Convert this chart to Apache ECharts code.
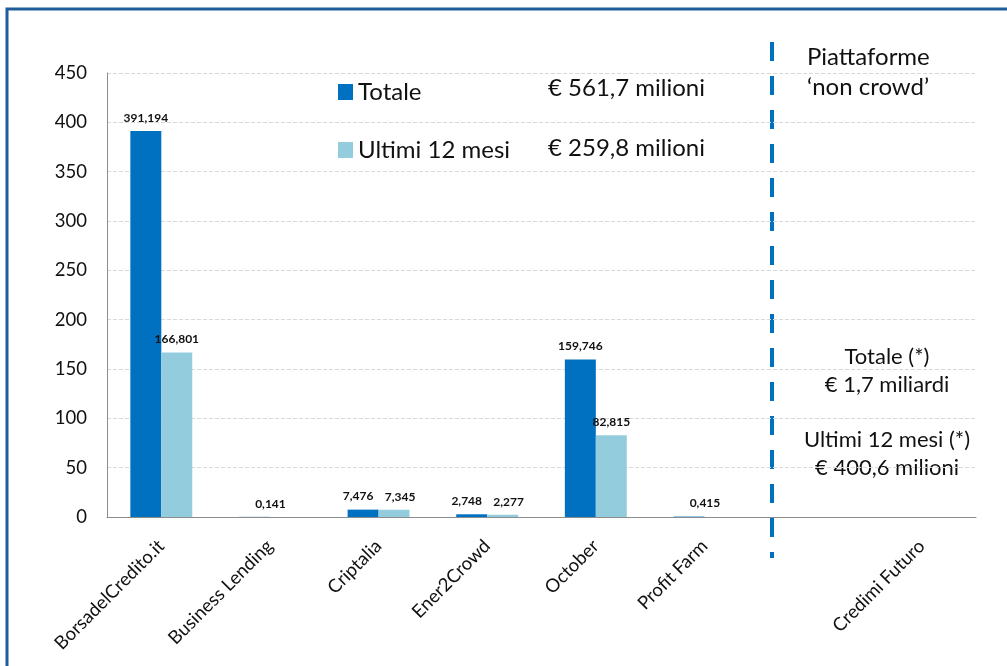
<!DOCTYPE html>
<html>
<head>
<meta charset="utf-8">
<script src="https://cdn.jsdelivr.net/npm/echarts@6/dist/echarts.min.js"></script>
<style>
  html, body { margin: 0; padding: 0; background: #fff; }
  #chart { width: 1007px; height: 666px; }
</style>
</head>
<body>
<div id="chart"></div>
<script>
// data
const categories = ['BorsadelCredito.it', 'Business Lending', 'Criptalia', 'Ener2Crowd', 'October', 'Profit Farm', '', 'Credimi Futuro'];
const totale = [391.194, 0.141, 7.476, 2.748, 159.746, 0.415, null, null];
const ultimi12 = [166.801, null, 7.345, 2.277, 82.815, null, null, null];
const seriesNames = ['Totale', 'Ultimi 12 mesi'];
const totalsText = ['€ 561,7 milioni', '€ 259,8 milioni'];
const nonCrowdTitle = ['Piattaforme', '‘non crowd’'];
const nonCrowdText = ['Totale (*)', '€ 1,7 miliardi', '', 'Ultimi 12 mesi (*)', '€ 400,6 milioni'];

const FONT = 'Lato, "Open Sans", sans-serif';
const all = [totale, ultimi12];

// italian number format for labels
const fmt = (v) => v.toFixed(3).replace('.', ',');

// lone bar -> label at category centre; two short bars -> labels pushed apart
const labelShift = (p) => {
    const mine = all[p.seriesIndex][p.dataIndex];
    const other = all[1 - p.seriesIndex][p.dataIndex];
    let dx = 0;
    if (other == null) dx = p.seriesIndex === 0 ? 16 : -16;
    else if (mine < 20 && other < 20) dx = p.seriesIndex === 0 ? -5 : 6;
    return { dx: dx };
};

const labelStyle = {
    show: true,
    position: 'top',
    distance: 7,
    fontFamily: FONT,
    fontWeight: 'bold',
    fontSize: 12,
    color: '#111',
    formatter: (p) => fmt(p.value)
};

let option = {
    animation: false,
    grid: { left: 107, right: 31, top: 73, bottom: 149 },
    legend: {
        data: seriesNames,
        orient: 'vertical',
        left: 333,
        top: 75,
        icon: 'rect',
        itemWidth: 15,
        itemHeight: 16,
        itemGap: 34,
        textStyle: { fontFamily: FONT, fontSize: 24, color: '#111' }
    },
    xAxis: {
        type: 'category',
        data: categories,
        axisLine: { lineStyle: { color: '#8c8c8c', width: 1 } },
        axisTick: { show: false },
        axisLabel: {
            interval: 0,
            rotate: 45,
            margin: 26,
            fontFamily: FONT,
            fontSize: 18.5,
            color: '#111'
        }
    },
    yAxis: {
        type: 'value',
        min: 0,
        max: 450,
        interval: 50,
        axisLine: { show: true, lineStyle: { color: '#8c8c8c' } },
        axisTick: { show: false },
        axisLabel: { fontFamily: FONT, fontSize: 18.5, color: '#111', margin: 20 },
        splitLine: { lineStyle: { type: 'dashed', color: '#d9d9d9' } }
    },
    series: [
        {
            name: seriesNames[0],
            type: 'bar',
            data: totale,
            itemStyle: { color: '#0070C0' },
            barGap: '0%',
            barCategoryGap: '43%',
            label: labelStyle,
            labelLayout: labelShift
        },
        {
            name: seriesNames[1],
            type: 'bar',
            data: ultimi12,
            itemStyle: { color: '#93CDDD' },
            label: labelStyle,
            labelLayout: labelShift
        }
    ],
    graphic: [
        // frame
        { type: 'rect', shape: { x: 7, y: 9, width: 1010, height: 670 },
          style: { fill: null, stroke: '#1F5C99', lineWidth: 3 }, silent: true },
        // separator
        { type: 'line', shape: { x1: 772, y1: 42, x2: 772, y2: 558 },
          style: { stroke: '#0070C0', lineWidth: 4, lineDash: [19, 15] }, silent: true },
        { type: 'text', x: 548, y: 88,
          style: { text: totalsText[0], font: '24px ' + FONT, fill: '#111', verticalAlign: 'middle' } },
        { type: 'text', x: 548, y: 148,
          style: { text: totalsText[1], font: '24px ' + FONT, fill: '#111', verticalAlign: 'middle' } },
        { type: 'text', x: 807, y: 42,
          style: { text: nonCrowdTitle.join('\n'), font: '24px ' + FONT, fill: '#111',
                   lineHeight: 30, verticalAlign: 'top' } },
        { type: 'text', x: 887, y: 343,
          style: { text: nonCrowdText.join('\n'), font: '22px ' + FONT, fill: '#111',
                   lineHeight: 27.8, align: 'center', verticalAlign: 'top' } }
    ]
};

var myChart = echarts.init(document.getElementById('chart'));
myChart.setOption(option);
</script>
</body>
</html>
